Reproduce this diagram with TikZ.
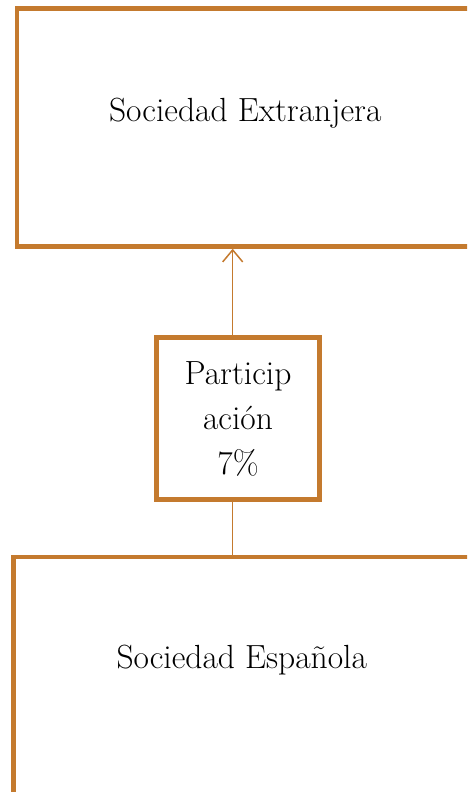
\documentclass[tikz,border=0pt]{standalone}
\usepackage{xcolor}
\usetikzlibrary{arrows.meta}

\definecolor{marco}{RGB}{196,122,46}

\begin{document}
\begin{tikzpicture}[x=1pt,y=-1pt,line width=4.5pt,
  caja/.style={draw=marco,line width=4.5pt,minimum width=457pt,minimum height=238pt,inner sep=0pt},
  cajita/.style={draw=marco,line width=4.5pt,minimum width=163pt,minimum height=162pt,align=center,inner sep=0pt},
  texto/.style={font=\fontsize{33.5}{45}\selectfont},
  enlace/.style={draw=marco,line width=1.5pt}]

\useasboundingbox (0,0) rectangle (467,792);
\clip (0,0) rectangle (467,792);

% cajas
\node[caja,label={[texto,yshift=14.5pt]center:Sociedad Extranjera}] (Extranjera) at (245.25,127.5) {};
\node[cajita,texto] (Participacion) at (238,418.5) {Particip\\ación\\7\%};
\node[caja,label={[texto,yshift=16pt]center:Sociedad Española}] (Espanola) at (241.75,676) {};

% conectores
\draw[enlace,-{Straight Barb[length=12pt,width=20pt]}] ([xshift=-5.3pt]Participacion.north) -- ([xshift=-5.3pt]Participacion.north |- Extranjera.south);
\draw[enlace] ([xshift=-5.3pt]Participacion.south) -- ([xshift=-5.3pt]Participacion.south |- Espanola.north);

\end{tikzpicture}
\end{document}
